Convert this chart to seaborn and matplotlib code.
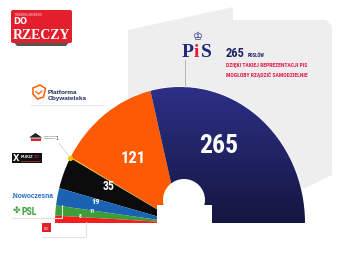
import numpy as np
import matplotlib
matplotlib.use("Agg")
import matplotlib.pyplot as plt
import seaborn as sns
from matplotlib import font_manager
from matplotlib.patches import Rectangle, Polygon, Ellipse, FancyBboxPatch
from matplotlib.colors import LinearSegmentedColormap

# ---------------- data ----------------
parties = ["PiS", "PO", "MN", "Kukiz'15", "Nowoczesna", "PSL", "SLD"]
seats = [265, 121, 1, 35, 19, 11, 8]
party_colors = ["#25297a", "#fd5a06", "#f4c400", "#0c0c0c", "#1b62b3", "#3b9e3a", "#f41d1d"]
seat_labels = ["265", "121", "", "35", "19", "11", "8"]
headline_seats = "265"
headline_unit = "POSŁÓW"
headline_lines = ["DZIĘKI TAKIEJ REPREZENTACJI PIS", "MOGŁOBY RZĄDZIĆ SAMODZIELNIE"]
mn_seats = "1"

# ---------------- style ----------------
sns.set_theme(style="white")
names = {f.name for f in font_manager.fontManager.ttflist}
NARROW = next((n for n in ["Liberation Sans Narrow", "Roboto Condensed", "Liberation Sans"]
               if n in names), "DejaVu Sans")
SANS = "Liberation Sans" if "Liberation Sans" in names else "DejaVu Sans"
SERIF = "Liberation Serif" if "Liberation Serif" in names else "DejaVu Serif"
plt.rcParams["font.family"] = ["DejaVu Sans"]

palette = sns.color_palette(party_colors)

W, H = 360, 259
fig = plt.figure(figsize=(3.6, 2.59), dpi=100)
fig.patch.set_facecolor("white")

# background axes in pixel coordinates
bg = fig.add_axes([0, 0, 1, 1], zorder=0)
bg.set_xlim(0, W); bg.set_ylim(H, 0); bg.axis("off")

# light grey panel
bg.add_patch(Polygon([(128, 30), (233, 7), (233, 20), (326, 20), (332, 26),
                      (332, 175), (305, 188), (128, 188)],
                     closed=True, facecolor="#eeeeee", edgecolor="none"))

# ---------------- half-donut ----------------
cx, cy, rx, ry = 180, 223, 125, 136
pax = fig.add_axes([(cx - rx) / W, (H - cy - ry) / H, 2 * rx / W, 2 * ry / H], zorder=1)
pax.patch.set_alpha(0)
wedges, _ = pax.pie(seats + [sum(seats)], colors=list(palette) + [(1, 1, 1, 0)],
                    startangle=0, counterclock=True, radius=1,
                    wedgeprops=dict(linewidth=0))
wedges[-1].set_visible(False)
wedges[0].set_edgecolor("white")
wedges[0].set_linewidth(1.0)

# gradient fill for the PiS wedge
grad = np.linspace(0, 1, 256).reshape(-1, 1)
cmap = LinearSegmentedColormap.from_list("navy", ["#2d3089", "#15163f"])
im = pax.imshow(grad, cmap=cmap, extent=(-1.02, 1.02, -0.01, 1.02), origin="upper",
                aspect="auto", zorder=2)
im.set_clip_path(wedges[0])

# hole
pax.add_patch(Ellipse((0.032, 0.169), 0.336, 0.309, facecolor="white", edgecolor="none", zorder=5))
pax.add_patch(Rectangle((-0.184, -0.02), 0.44, 0.152, facecolor="white", edgecolor="none", zorder=5))

pax.set_xlim(-1, 1); pax.set_ylim(-1, 1); pax.set_aspect("auto"); pax.axis("off")

# yellow dot for the single MN seat (outer edge of its wedge)
mn_idx = 2
w = wedges[mn_idx]
mid = np.deg2rad((w.theta1 + w.theta2) / 2)
dot = (np.cos(mid), np.sin(mid))
pax.scatter([dot[0]], [dot[1]], s=14, color=palette[mn_idx], zorder=6, linewidths=0)

# ---------------- overlay ----------------
top = fig.add_axes([0, 0, 1, 1], zorder=2)
top.patch.set_alpha(0)
top.set_xlim(0, W); top.set_ylim(H, 0); top.axis("off")

NUMF = [NARROW, "DejaVu Sans"]

# seat labels inside segments
label_pos = [(218.5, 153, 18.5), (133, 163, 12), None, (108.5, 190, 8.5),
             (96, 204, 6), (92.5, 213.3, 4), (80, 218.3, 4)]
for lab, pos in zip(seat_labels, label_pos):
    if not lab or pos is None:
        continue
    x, y, fs = pos
    top.text(x, y, lab, ha="center", va="baseline", color="white",
             fontsize=fs, fontweight="bold", family=NUMF)

# leader line to MN label
top.annotate("", xy=dot, xycoords=pax.transData, xytext=(57, 141), textcoords=top.transData,
             arrowprops=dict(arrowstyle="-", color="#cccccc", lw=0.5))

# PiS logo + headline
top.text(197.5, 37, "\u2654", ha="center", va="center", fontsize=8, color="#1f2a78")
top.text(182, 57, "P", fontsize=14, fontweight="bold", family=SERIF, color="#1f2a78", va="baseline")
top.text(194, 57, "i", fontsize=14, fontweight="bold", family=SERIF, color="#e3193f", va="baseline")
top.text(200.5, 57, "S", fontsize=14, fontweight="bold", family=SERIF, color="#1f2a78", va="baseline")
top.plot([185, 185], [60, 87], color="#aaaaaa", lw=0.6)
top.text(226, 57, headline_seats, fontsize=9, fontweight="bold", family=NUMF,
         color="#1f2466", va="baseline")
top.text(248, 57, headline_unit, fontsize=3.4, fontweight="bold", family=NUMF,
         color="#1f2466", va="baseline")
for i, line in enumerate(headline_lines):
    top.text(226, 67.5 + 9 * i, line, fontsize=4.1, fontweight="bold",
             family=NUMF, color="#e3194b", va="baseline")

# DO RZECZY logo
top.add_patch(Polygon([(13, 41), (70, 41), (66, 46), (17, 46)], closed=True,
                      facecolor="#555555", edgecolor="none"))
top.add_patch(FancyBboxPatch((11, 10), 61, 33, boxstyle="round,pad=0,rounding_size=2",
                             facecolor="#e31e2d", edgecolor="none"))
top.text(14, 15.5, "TYGODNIK LISICKIEGO", fontsize=1.8, color="white", va="baseline")
top.text(13.5, 23.5, "DO", fontsize=6, fontweight="bold", color="white", va="baseline")
top.text(12.5, 39, "RZECZY", fontsize=10, fontweight="bold", family=SERIF, color="white",
         va="baseline")

# Platforma Obywatelska
top.add_patch(Polygon([(33, 88), (40, 85), (45.5, 88.5), (43.5, 97), (37.5, 99), (33, 94)],
                      closed=True, facecolor="none", edgecolor="#fd5a06", lw=1.1))
top.plot([35.5, 38.5, 42], [91.5, 94, 91], color="#fd5a06", lw=0.9)
top.text(48, 94.5, "Platforma", fontsize=4.6, fontweight="bold", family=SANS,
         color="#1c2b5a", va="baseline")
top.text(48, 100.2, "Obywatelska", fontsize=4.6, fontweight="bold", family=SANS,
         color="#1c2b5a", va="baseline")
top.plot([30, 104], [105, 105], color="#e8e8e8", lw=0.8)

# Mniejszość Niemiecka
top.add_patch(Polygon([(29, 137.5), (35.5, 133), (42, 137.5)], closed=True,
                      facecolor="#222222", edgecolor="none"))
top.add_patch(Rectangle((30.5, 137.5), 10, 1.8, facecolor="white", edgecolor="#222222", lw=0.3))
top.add_patch(Rectangle((30.5, 139.3), 10, 1.8, facecolor="#e31e2d", edgecolor="none"))
top.text(43.5, 136.8, "MNIEJSZOŚĆ", fontsize=1.6, color="#444444", va="baseline")
top.text(43.5, 139.3, "NIEMIECKA", fontsize=1.6, color="#444444", va="baseline")
top.text(55, 140, mn_seats, fontsize=3.4, color="#333333", va="baseline")

# Kukiz'15
top.add_patch(Rectangle((12, 153), 30, 10, facecolor="#111111", edgecolor="none"))
top.text(16, 158.3, "X", fontsize=6, fontweight="bold", color="white", ha="center", va="center")
top.text(20.3, 158.5, "KUKIZ", fontsize=3, fontweight="bold", family=SANS, color="white",
         va="baseline")
top.text(33.4, 158.5, "'15", fontsize=3, fontweight="bold", family=SANS, color="#e3193f",
         va="baseline")
top.plot([20.5, 40], [160.5, 160.5], color="#c0392b", lw=0.5)

# Nowoczesna
top.text(12, 198, ".Nowoczesna", fontsize=4.8, fontweight="bold", family=SANS,
         color="#1f6cc2", va="baseline")

# PSL
top.plot([12, 62, 62], [218, 218, 205], color="#e2e2e2", lw=0.8)
top.text(16, 210.5, "\u2724", fontsize=6.5, color="#3da23b", ha="center", va="center")
top.text(21.5, 214.8, "PSL", fontsize=7, fontweight="bold", family=NUMF,
         color="#3da23b", va="baseline")

# SLD
top.plot([42, 86, 86], [237, 237, 222], color="#e2e2e2", lw=0.8)
top.add_patch(Rectangle((42, 223), 9, 9, facecolor="#e5202a", edgecolor="none"))
top.text(46.5, 229.5, "SLD", fontsize=2, color="white", ha="center", va="center")

fig.savefig("out.png", dpi=100, facecolor="white")
